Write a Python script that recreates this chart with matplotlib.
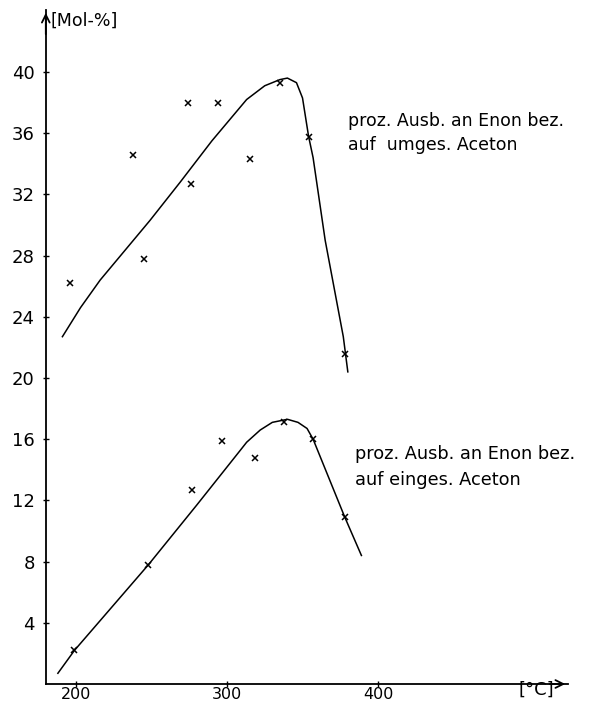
import matplotlib
matplotlib.use("Agg")
import matplotlib.pyplot as plt

# ---- data ----
# upper series: % yield of Enon referred to converted acetone
upper_pts_T = [196, 238, 245, 274, 276, 294, 315, 335, 354, 378]
upper_pts_v = [26.2, 34.6, 27.8, 38.0, 32.7, 38.0, 34.3, 39.3, 35.75, 21.6]
upper_curve_T = [191, 203, 216, 249, 269, 290, 313, 325, 335, 340, 346, 350, 354, 357, 365, 377, 380]
upper_curve_v = [22.7, 24.6, 26.4, 30.3, 32.8, 35.5, 38.2, 39.1, 39.5, 39.6, 39.3, 38.3, 35.8, 34.4, 29.0, 22.7, 20.4]

# lower series: % yield of Enon referred to charged acetone
lower_pts_T = [199, 248, 277, 297, 318.5, 338, 357, 378]
lower_pts_v = [2.2, 7.8, 12.7, 15.9, 14.8, 17.1, 16.0, 10.9]
lower_curve_T = [188, 199, 248, 280, 309, 313, 322, 330, 340, 347, 353, 357, 378, 389]
lower_curve_v = [0.7, 2.2, 7.8, 11.7, 15.3, 15.8, 16.6, 17.1, 17.3, 17.1, 16.7, 16.0, 10.9, 8.4]

y_ticks = [4, 8, 12, 16, 20, 24, 28, 32, 36, 40]
x_ticks = [200, 300, 400]

upper_label = "proz. Ausb. an Enon bez.\nauf  umges. Aceton"
lower_label = "proz. Ausb. an Enon bez.\nauf einges. Aceton"

# ---- figure ----
W, H = 590, 701
fig = plt.figure(figsize=(W / 100, H / 100), dpi=100)
ax = fig.add_axes([45.8 / W, (H - 684) / H, (568 - 45.8) / W, (684 - 10) / H])
ax.set_xlim(180, 525.8)
ax.set_ylim(0, 44.05)

for s in ("top", "right"):
    ax.spines[s].set_visible(False)
for s in ("left", "bottom"):
    ax.spines[s].set_linewidth(1.3)

# arrow heads
ax.annotate("", xy=(1.0, 0), xytext=(0.96, 0), xycoords="axes fraction",
            arrowprops=dict(arrowstyle="->", lw=1.3, color="black", mutation_scale=14))
ax.annotate("", xy=(0, 1.0), xytext=(0, 0.96), xycoords="axes fraction",
            arrowprops=dict(arrowstyle="->", lw=1.3, color="black", mutation_scale=14))

ax.set_yticks(y_ticks)
ax.set_yticklabels([str(t) for t in y_ticks])
ax.set_xticks(x_ticks)
ax.set_xticklabels([str(t) for t in x_ticks])
ax.tick_params(axis="y", direction="inout", length=4, width=1, labelsize=13, pad=6)
ax.tick_params(axis="x", direction="inout", length=4, width=1, labelsize=11.5, pad=0)

ax.plot(upper_curve_T, upper_curve_v, color="black", lw=1.1)
ax.plot(lower_curve_T, lower_curve_v, color="black", lw=1.1)
ax.plot(upper_pts_T, upper_pts_v, linestyle="none", marker="x", color="black", ms=4, mew=1.1)
ax.plot(lower_pts_T, lower_pts_v, linestyle="none", marker="x", color="black", ms=4, mew=1.1)

# unit labels
fig.text(50 / W, 1 - 21 / H, "[Mol-%]", fontsize=12.5, ha="left", va="center")
fig.text(536 / W, 1 - 690 / H, "[°C]", fontsize=13, ha="center", va="center")

# annotations
fig.text(348 / W, 1 - 133 / H, upper_label, fontsize=12.5, ha="left", va="center",
         linespacing=1.4)
fig.text(355 / W, 1 - 467 / H, lower_label, fontsize=12.8, ha="left", va="center",
         linespacing=1.55)

fig.savefig("out.png", dpi=100)
